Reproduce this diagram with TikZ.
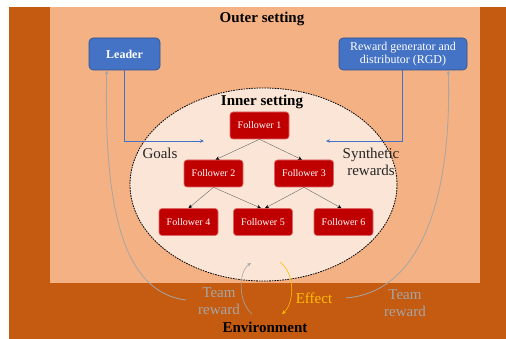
\documentclass[tikz,border=0pt]{standalone}
\usepackage{fontspec}
\setmainfont{Liberation Serif}
\usetikzlibrary{arrows.meta,shapes.geometric,calc}
\definecolor{darkor}{HTML}{C55A11}
\definecolor{lightor}{HTML}{F4B183}
\definecolor{paleor}{HTML}{FBE5D6}
\definecolor{blu}{HTML}{4472C4}
\definecolor{bluedge}{HTML}{2F528F}
\definecolor{redbox}{HTML}{C00000}
\definecolor{rededge}{HTML}{E06666}
\definecolor{gry}{HTML}{A6A6A6}
\definecolor{gold}{HTML}{FFC000}
\tikzset{
  bluebox/.style={draw=bluedge, line width=0.6pt, fill=blu, rounded corners=4pt, text=white, font=\fontsize{12}{13.5}\selectfont, align=center, minimum height=32pt, inner sep=2pt},
  follower/.style={draw=rededge, line width=0.6pt, fill=redbox, rounded corners=3pt, text=white, font=\fontsize{10}{12}\selectfont, minimum width=59pt, minimum height=27pt, inner sep=1pt},
  bigtxt/.style={font=\fontsize{15}{17}\selectfont, align=center, inner sep=0pt},
  treearrow/.style={draw=gray!80!black, line width=0.4pt, -{Stealth[length=4pt,width=3.5pt,black]}},
  bluearrow/.style={draw=blu, line width=0.8pt, -{Stealth[length=4pt,width=3.5pt]}},
  grayarrow/.style={draw=gry, line width=0.8pt, -{Stealth[length=4pt,width=3.5pt]}},
  goldarrow/.style={draw=gold, line width=0.8pt, -{Stealth[length=4pt,width=3.5pt]}},
}
\begin{document}
\begin{tikzpicture}[x=1pt,y=-1pt]
\useasboundingbox[fill=white] (0,0) rectangle (506,339);
\fill[darkor] (9,7) rectangle (506,339);
\fill[lightor] (50,7) rectangle (480,283);
\node[ellipse, draw=black, fill=paleor, line width=0.8pt, dash pattern=on 1.6pt off 1pt, minimum width=267pt, minimum height=193pt, inner sep=0pt] (inner) at (263.5,184.5) {};

\node[bigtxt, font=\fontsize{15}{17}\selectfont\bfseries] (outer) at (262,19) {Outer setting};
\node[bigtxt, font=\fontsize{15}{17}\selectfont\bfseries] (innerlbl) at (262,102) {Inner setting};
\node[bigtxt, font=\fontsize{15}{17}\selectfont\bfseries] (env) at (265,327) {Environment};

\node[bluebox, minimum width=71pt, font=\fontsize{12}{13.5}\selectfont\bfseries] (Leader) at (124.5,54) {Leader};
\node[bluebox, minimum width=128pt] (RGD) at (403,54) {Reward generator and\\distributor (RGD)};

\node[follower] (F1) at (259.5,125.5) {Follower 1};
\node[follower] (F2) at (213.5,173.5) {Follower 2};
\node[follower] (F3) at (304,173.5) {Follower 3};
\node[follower] (F4) at (188.5,222) {Follower 4};
\node[follower] (F5) at (263,222) {Follower 5};
\node[follower] (F6) at (343.5,222) {Follower 6};

\draw[treearrow] (F1.south) -- ([xshift=2pt]F2.north);
\draw[treearrow] (F1.south) -- ([xshift=-2pt]F3.north);
\draw[treearrow] (F2.south) -- (F4.north);
\draw[treearrow] (F2.south) -- ([xshift=-2pt]F5.north);
\draw[treearrow] (F3.south) -- ([xshift=2pt]F5.north);
\draw[treearrow] (F3.south) -- ([xshift=-2pt]F6.north);

\coordinate (goalEnd) at (204,141);
\coordinate (synEnd) at (326,141);
\draw[bluearrow] (Leader.south) |- (goalEnd);
\draw[bluearrow] ([xshift=-1pt]RGD.south) |- (synEnd);

\node[bigtxt, text=black!85] (goals) at (160,153) {Goals};
\node[bigtxt, text=black!85] (syn) at (371,162) {Synthetic\\rewards};

\node[bigtxt, text=gry] (trL) at (219,301) {Team\\reward};
\node[bigtxt, text=gry] (trR) at (405,303) {Team\\reward};
\node[bigtxt, text=gold] (effect) at (314,298) {Effect};

\coordinate (lstart) at (186,300);
\coordinate (rstart) at (346,298);
\draw[grayarrow] (lstart) .. controls (120,292) and (104,200) .. ([xshift=18pt]Leader.south west);
\draw[grayarrow] (rstart) .. controls (420,292) and (452,200) .. ([xshift=-19pt]RGD.south east);

\coordinate (ga) at (252,314);
\coordinate (gb) at (251,263);
\coordinate (oa) at (280,262);
\coordinate (ob) at (282,314);
\draw[grayarrow, line width=0.6pt] (ga) .. controls (238,302) and (238,272) .. (gb);
\draw[goldarrow, line width=0.6pt] (oa) .. controls (296,274) and (294,304) .. (ob);
\end{tikzpicture}
\end{document}
